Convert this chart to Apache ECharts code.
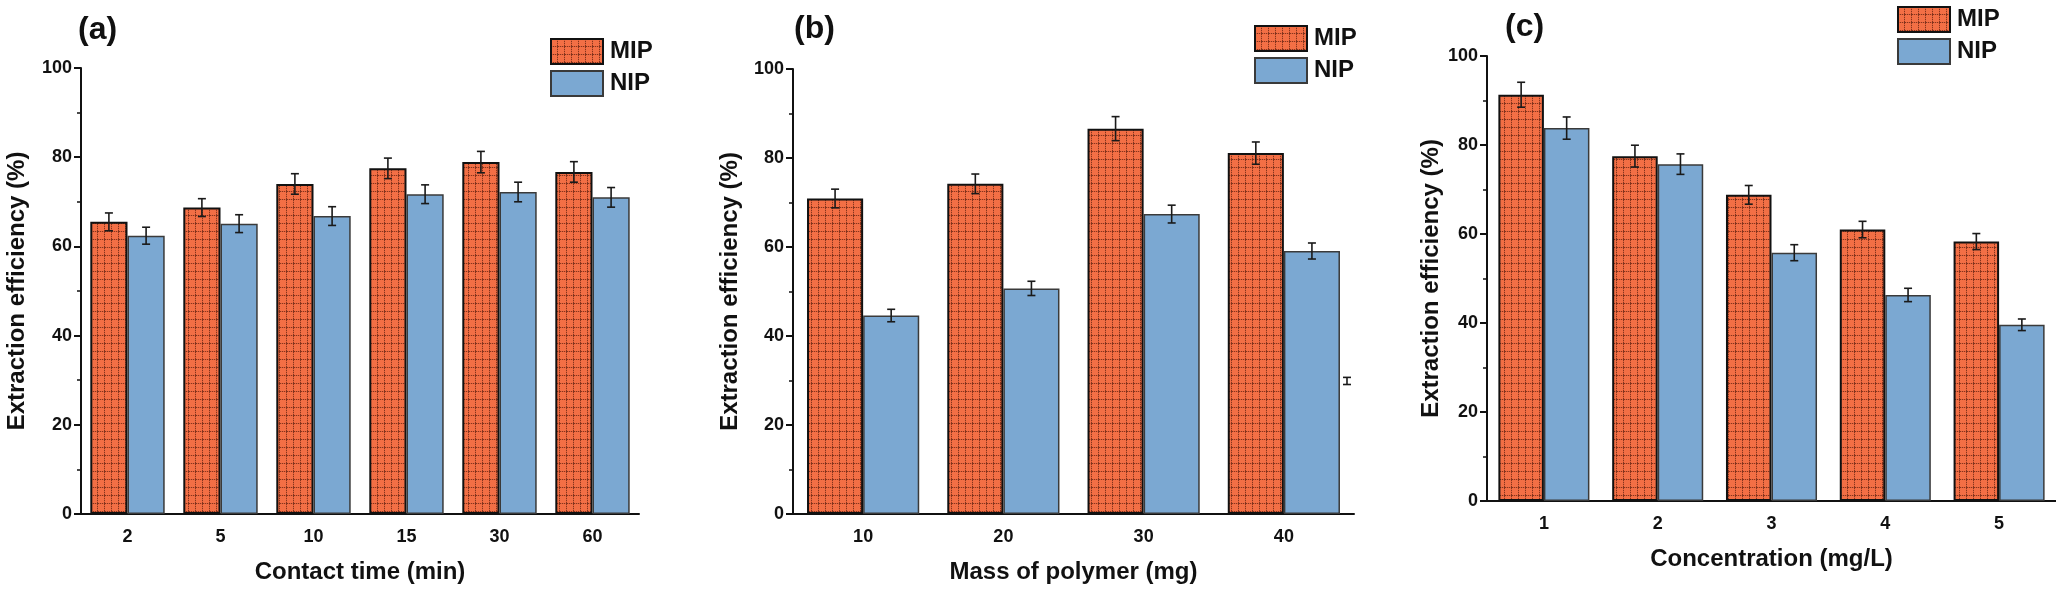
<!DOCTYPE html>
<html>
<head>
<meta charset="utf-8">
<script src="https://cdn.jsdelivr.net/npm/echarts@6/dist/echarts.min.js"></script>
<style>
html,body{margin:0;padding:0;background:#fff;}
#main{width:2056px;height:590px;}
</style>
</head>
<body>
<div id="main"></div>
<script>
// (a) contact time
var timeCats=["2","5","10","15","30","60"];
var timeMIP=[65.5,68.7,74.0,77.5,78.9,76.7];
var timeMIPErr=[2.0,2.0,2.3,2.3,2.4,2.3];
var timeNIP=[62.4,65.1,66.8,71.7,72.2,71.0];
var timeNIPErr=[1.9,2.0,2.1,2.1,2.2,2.2];

// (b) mass of polymer
var massCats=["10","20","30","40"];
var massMIP=[70.9,74.2,86.6,81.1];
var massMIPErr=[2.1,2.2,2.7,2.5];
var massNIP=[44.6,50.7,67.4,59.1];
var massNIPErr=[1.4,1.6,2.0,1.8];
// lone error bar sitting at the right edge of panel (b)
var massStray=[[3,29.9,0.8]];

// (c) concentration
var concCats=["1","2","3","4","5"];
var concMIP=[91.3,77.5,68.8,61.0,58.3];
var concMIPErr=[2.8,2.45,2.1,1.85,1.8];
var concNIP=[83.8,75.7,55.8,46.3,39.6];
var concNIPErr=[2.5,2.3,1.8,1.5,1.3];

var yMin=0, yMax=100, yStep=20;

var FONT="Liberation Sans, Arial, sans-serif";

// dotted grid pattern for the MIP bars
function makePattern(){
	var c=document.createElement("canvas");
	c.width=7;c.height=8;
	var g=c.getContext("2d");
	g.fillStyle="#f36f45";
	g.fillRect(0,0,7,8);
	for(var i=0;i<8;i++){
		g.fillStyle=(i%2==0)?"rgba(60,15,5,0.6)":"rgba(120,40,15,0.2)";
		if(i<7) g.fillRect(i,7,1,1);
		g.fillRect(6,i,1,1);
	}
	return c;
}
var mipFill={image:makePattern(),repeat:"repeat"};
var nipFill="#7ba8d2";

function errRender(shift){
	return function(params,api){
		var x=api.value(0),v=api.value(1),e=api.value(2);
		var hi=api.coord([x,v+e]);
		var lo=api.coord([x,v-e]);
		var band=api.size([1,0])[0];
		var cx=hi[0]+shift*band;
		var w=4;
		var st={stroke:"#1a1a1a",lineWidth:1.6};
		return {type:"group",children:[
			{type:"line",shape:{x1:cx,y1:hi[1],x2:cx,y2:lo[1]},style:st},
			{type:"line",shape:{x1:cx-w,y1:hi[1],x2:cx+w,y2:hi[1]},style:st},
			{type:"line",shape:{x1:cx-w,y1:lo[1],x2:cx+w,y2:lo[1]},style:st}
		]};
	};
}

function toErr(vals,errs){
	var out=[];
	for(var i=0;i<vals.length;i++){
		out.push([i,vals[i],errs[i]]);
	}
	return out;
}

var panels=[
	{cats:timeCats,mip:timeMIP,mipE:timeMIPErr,nip:timeNIP,nipE:timeNIPErr,
	 grid:{left:81,top:68,width:558,height:446},xname:"Contact time (min)",
	 label:"(a)",lx:78,ly:14,legend:{left:550,top:38},yGap:52},
	{cats:massCats,mip:massMIP,mipE:massMIPErr,nip:massNIP,nipE:massNIPErr,
	 grid:{left:793,top:69,width:561,height:445},xname:"Mass of polymer (mg)",
	 label:"(b)",lx:794,ly:13,legend:{left:1254,top:25},yGap:51},
	{cats:concCats,mip:concMIP,mipE:concMIPErr,nip:concNIP,nipE:concNIPErr,
	 grid:{left:1487,top:56,width:569,height:445},xname:"Concentration (mg/L)",
	 label:"(c)",lx:1505,ly:11,legend:{left:1897,top:6},yGap:44}
];

var option={
	animation:false,
	backgroundColor:"#fff",
	textStyle:{fontFamily:FONT},
	grid:[],xAxis:[],yAxis:[],series:[],legend:[],graphic:[]
};

for(var p=0;p<panels.length;p++){
	var P=panels[p];
	option.grid.push(P.grid);
	// main category axis, ticks under the labels
	option.xAxis.push({
		type:"category",gridIndex:p,data:P.cats,
		name:P.xname,nameLocation:"middle",nameGap:46,
		nameTextStyle:{fontSize:24,fontWeight:"bold",color:"#111",fontFamily:FONT},
		axisLine:{lineStyle:{color:"#111",width:2}},
		axisTick:{alignWithLabel:true,length:8,lineStyle:{color:"#111",width:2}},
		axisLabel:{margin:14,fontSize:18,fontWeight:"bold",color:"#111",fontFamily:FONT},
		splitLine:{show:false}
	});
	// second axis only for the short ticks on the category boundaries
	option.xAxis.push({
		type:"category",gridIndex:p,data:P.cats,position:"bottom",
		axisLine:{show:false},
		axisTick:{length:4,lineStyle:{color:"#111",width:1.5}},
		axisLabel:{show:false},splitLine:{show:false}
	});
	option.yAxis.push({
		type:"value",gridIndex:p,min:yMin,max:yMax,interval:yStep,
		name:"Extraction efficiency (%)",nameLocation:"middle",nameGap:P.yGap,
		nameTextStyle:{fontSize:24,fontWeight:"bold",color:"#111",fontFamily:FONT},
		axisLine:{show:true,lineStyle:{color:"#111",width:2}},
		axisTick:{show:true,length:7,lineStyle:{color:"#111",width:2}},
		minorTick:{show:true,splitNumber:2,length:4,lineStyle:{color:"#111",width:1.5}},
		axisLabel:{margin:9,fontSize:18,fontWeight:"bold",color:"#111",fontFamily:FONT},
		splitLine:{show:false}
	});
	option.series.push({
		name:"MIP",type:"bar",xAxisIndex:2*p,yAxisIndex:p,data:P.mip,
		barGap:"0%",barCategoryGap:"20%",
		itemStyle:{color:mipFill,borderColor:"#111",borderWidth:2}
	});
	option.series.push({
		name:"NIP",type:"bar",xAxisIndex:2*p,yAxisIndex:p,data:P.nip,
		barGap:"0%",barCategoryGap:"20%",
		itemStyle:{color:nipFill,borderColor:"#3a3a3a",borderWidth:1.5}
	});
	option.series.push({
		type:"custom",xAxisIndex:2*p,yAxisIndex:p,z:5,
		renderItem:errRender(-0.2),encode:{x:0,y:1},data:toErr(P.mip,P.mipE)
	});
	option.series.push({
		type:"custom",xAxisIndex:2*p,yAxisIndex:p,z:5,
		renderItem:errRender(0.2),encode:{x:0,y:1},data:toErr(P.nip,P.nipE)
	});
	option.legend.push({
		data:["MIP","NIP"],orient:"vertical",left:P.legend.left,top:P.legend.top,
		padding:0,itemWidth:52,itemHeight:25,itemGap:5,icon:"rect",selectedMode:false,
		textStyle:{fontSize:24,fontWeight:"bold",color:"#111",fontFamily:FONT,padding:[0,0,0,2]}
	});
	option.graphic.push({
		type:"text",left:P.lx,top:P.ly,
		style:{text:P.label,font:"bold 32px "+FONT,fill:"#111"}
	});
}

option.series.push({
	type:"custom",xAxisIndex:2,yAxisIndex:1,z:5,
	renderItem:errRender(0.45),encode:{x:0,y:1},data:massStray
});

var myChart=echarts.init(document.getElementById("main"),null,{renderer:"canvas"});
myChart.setOption(option);
</script>
</body>
</html>
